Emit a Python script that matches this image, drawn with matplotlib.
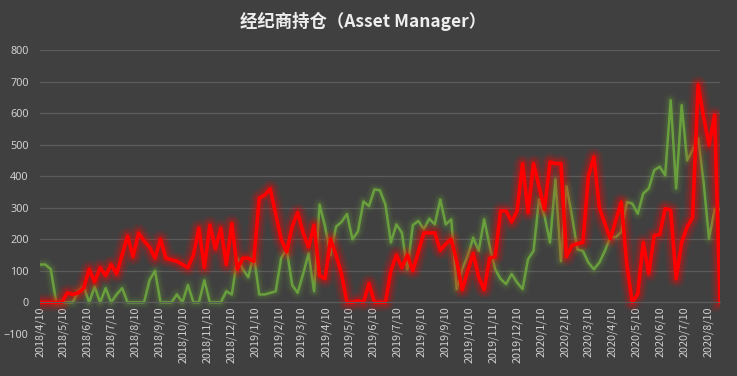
import matplotlib
matplotlib.use('Agg')
import matplotlib.pyplot as plt
import numpy as np
import pandas as pd

plt.rcParams['font.family'] = ['Noto Sans CJK SC', 'DejaVu Sans']

# weekly data, 2018/4/10 .. 2020/8/25
dates = pd.date_range('2018-04-10', periods=125, freq='7D')

green = [120, 120, 105, 0, 0, 0, 0, 35, 50, 0, 50, 0, 45, 0, 25, 45, 0, 0, 0, 0,
         70, 100, 0, 0, 0, 25, 0, 55, 0, 0, 70, 0, 0, 0, 35, 25, 140, 105, 80, 150,
         25, 25, 30, 35, 140, 170, 55, 30, 90, 155, 35, 310, 240, 150, 240, 255, 280, 200, 225, 320,
         305, 358, 355, 310, 190, 247, 221, 105, 245, 258, 232, 265, 247, 326, 247, 263, 42, 105, 147, 205,
         163, 263, 179, 105, 74, 58, 90, 63, 42, 137, 163, 326, 274, 190, 390, 131, 368, 274, 168, 163,
         126, 105, 126, 163, 207, 207, 223, 318, 313, 281, 345, 361, 419, 430, 403, 641, 361, 625, 450, 483,
         520, 380, 202, 295, 295]

red = [0, 0, 0, 0, 0, 30, 25, 30, 45, 105, 65, 110, 85, 120, 90, 150, 210, 145, 220, 195,
       175, 140, 200, 140, 135, 130, 120, 110, 150, 235, 110, 245, 170, 235, 120, 250, 105, 140, 140, 130,
       330, 340, 360, 280, 200, 160, 240, 285, 220, 175, 245, 85, 75, 200, 150, 90, 0, 0, 5, 0,
       60, 0, 0, 0, 100, 150, 110, 150, 100, 160, 220, 220, 220, 165, 185, 200, 130, 40, 100, 155,
       80, 40, 140, 145, 290, 290, 255, 290, 440, 285, 440, 366, 295, 445, 440, 440, 144, 180, 186, 190,
       400, 461, 300, 250, 202, 260, 318, 120, 0, 27, 190, 91, 212, 215, 297, 292, 75, 190, 239, 270,
       690, 588, 498, 594, 0]

tick_dates = pd.date_range('2018-04-01', '2020-08-01', freq='MS') + pd.Timedelta(days=9)
tick_labels = [f"{d.year}/{d.month}/{d.day}" for d in tick_dates]

bg = '#404040'
fig = plt.figure(figsize=(7.37, 3.76), dpi=100, facecolor=bg)
ax = fig.add_axes([0.054, 0.112, 0.923, 0.755], facecolor=bg)

# glow
for w, a in [(10, 0.06), (7, 0.09), (4.5, 0.14)]:
    ax.plot(dates, green, color='#6aa23c', lw=w, alpha=a, solid_joinstyle='round')
ax.plot(dates, green, color='#6a9f3e', lw=1.8, solid_joinstyle='round')
for w, a in [(13, 0.09), (9.5, 0.13), (6.5, 0.22)]:
    ax.plot(dates, red, color='#ff0000', lw=w, alpha=a, solid_joinstyle='round')
ax.plot(dates, red, color='#ff0000', lw=2.6, solid_joinstyle='round')

ax.set_xlim(dates[0], dates[-1])
ax.set_ylim(-100, 800)
ax.set_yticks(np.arange(-100, 801, 100))
ax.set_xticks(tick_dates)
ax.set_xticklabels(tick_labels)
ax.tick_params(axis='x', labelrotation=90, labelsize=7.8, labelcolor='#d0d0d0', pad=3)
ax.tick_params(axis='y', labelsize=7.8, labelcolor='#d0d0d0', pad=8)
for lab in ax.get_xticklabels() + ax.get_yticklabels():
    lab.set_family(['Noto Sans', 'DejaVu Sans'])

ax.grid(axis='y', color='#5c5c5c', lw=0.9)
ax.yaxis.get_gridlines()[0].set_visible(False)
ax.set_axisbelow(True)
for s in ['top', 'right', 'left']:
    ax.spines[s].set_visible(False)
ax.spines['bottom'].set_position(('data', 0))
ax.spines['bottom'].set_color('#5c5c5c')
ax.tick_params(axis='both', length=0)

fig.text(0.492, 0.944, '经纪商持仓（Asset Manager）', ha='center', va='center',
         fontsize=12.5, fontweight='bold', color='#eeeeee')

fig.savefig('out.png', dpi=100, facecolor=bg)
